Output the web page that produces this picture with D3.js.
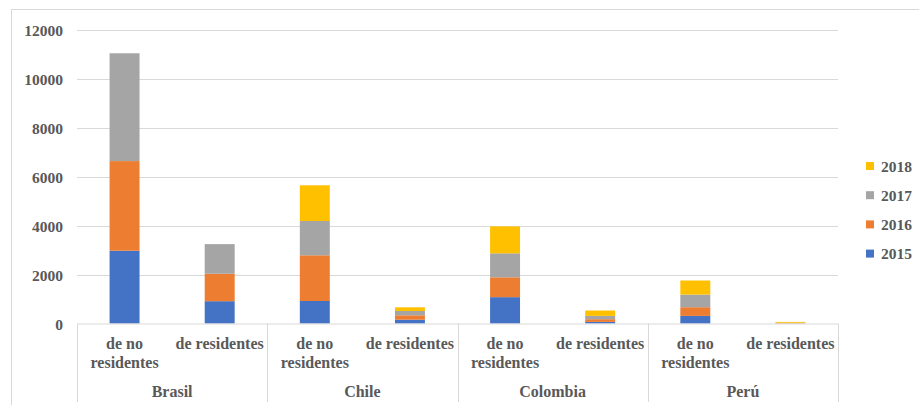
<!DOCTYPE html>
<html>
<head>
<meta charset="utf-8">
<script src="https://cdn.jsdelivr.net/npm/d3@7"></script>
<style>
  html, body { margin: 0; padding: 0; background: #ffffff; }
  svg { display: block; }
</style>
</head>
<body>
<svg id="chart" width="919" height="405"></svg>
<script>
// Countries and the two kinds of applicants within each
const countries = ["Brasil", "Chile", "Colombia", "Perú"];
const kinds = ["de no residentes", "de residentes"];
const years = ["2015", "2016", "2017", "2018"];
const yearColors = ["#4472c4", "#ed7d31", "#a5a5a5", "#ffc000"];

// Values per year, in order: Brasil(no res, res), Chile(no res, res), Colombia(no res, res), Perú(no res, res)
const v2015 = [2970, 910, 918, 155, 1075, 65, 310, 5];
const v2016 = [3660, 1120, 1866, 180, 810, 110, 355, 15];
const v2017 = [4400, 1210, 1400, 175, 980, 135, 515, 10];
const v2018 = [0, 0, 1457, 150, 1100, 220, 575, 35];

const yTicks = [0, 2000, 4000, 6000, 8000, 10000, 12000];

const FONT = "'Liberation Serif', 'Times New Roman', Tinos, serif";
const TEXT_FILL = "#595959";

const svg = d3.select("#chart");
const W = 919, H = 405;

// outer frame
svg.append("rect")
  .attr("x", 11.5).attr("y", 9.5)
  .attr("width", W + 10).attr("height", H + 10)
  .attr("fill", "none").attr("stroke", "#d9d9d9").attr("stroke-width", 1);

const plot = { left: 77, right: 838, top: 29.5, bottom: 323.5 };

// one slot per (country, kind)
const slots = [];
countries.forEach(c => kinds.forEach(k => slots.push(c + "|" + k)));

const rows = slots.map((s, i) => ({
  slot: s,
  "2015": v2015[i], "2016": v2016[i], "2017": v2017[i], "2018": v2018[i]
}));

const x = d3.scaleBand().domain(slots).range([plot.left, plot.right]).paddingInner(0.685).paddingOuter(0.3425);
const y = d3.scaleLinear().domain([0, 12000]).range([plot.bottom, plot.top]);

function styleText(sel, size) {
  return sel.style("font-family", FONT).style("font-weight", "bold")
    .style("font-size", size || "16px").style("fill", TEXT_FILL);
}

// gridlines
svg.append("g")
  .selectAll("line").data(yTicks.filter(t => t > 0)).join("line")
  .attr("x1", plot.left).attr("x2", plot.right)
  .attr("y1", d => Math.round(y(d)) + 0.5).attr("y2", d => Math.round(y(d)) + 0.5)
  .attr("stroke", "#d9d9d9").attr("stroke-width", 1);

// y axis labels
const yAxis = d3.axisLeft(y).tickValues(yTicks).tickSize(0).tickPadding(14).tickFormat(d3.format("d"));
const yg = svg.append("g").attr("transform", `translate(${plot.left},0)`).call(yAxis);
yg.select(".domain").remove();
yg.attr("font-family", null).attr("font-size", null);
styleText(yg.selectAll("text"), "15.5px").attr("fill", null).attr("dy", "0.36em");

// stacked bars
const stack = d3.stack().keys(years)(rows);
const color = d3.scaleOrdinal().domain(years).range(yearColors);

svg.append("g").selectAll("g").data(stack).join("g")
  .attr("fill", d => color(d.key))
  .selectAll("rect").data(d => d).join("rect")
  .attr("x", d => x(d.data.slot))
  .attr("width", x.bandwidth())
  .attr("y", d => y(d[1]))
  .attr("height", d => Math.max(0, y(d[0]) - y(d[1])));

// category axis line
svg.append("line")
  .attr("x1", plot.left).attr("x2", plot.right)
  .attr("y1", plot.bottom + 0.5).attr("y2", plot.bottom + 0.5)
  .attr("stroke", "#d9d9d9").attr("stroke-width", 1);

// group separators
const groupW = (plot.right - plot.left) / countries.length;
const seps = d3.range(countries.length + 1).map(i => plot.left + i * groupW);
svg.append("g").selectAll("line").data(seps).join("line")
  .attr("x1", d => Math.round(d) + 0.5).attr("x2", d => Math.round(d) + 0.5)
  .attr("y1", plot.bottom).attr("y2", 402)
  .attr("stroke", "#d9d9d9").attr("stroke-width", 1);

// kind labels
const slotW = groupW / kinds.length;
const labels = svg.append("g").attr("text-anchor", "middle");
slots.forEach((s, i) => {
  const cx = plot.left + slotW * (i + 0.5);
  const kind = s.split("|")[1];
  const t = styleText(labels.append("text")).attr("x", cx).attr("y", 349);
  if (kind === "de no residentes") {
    t.append("tspan").attr("x", cx).text("de no");
    t.append("tspan").attr("x", cx).attr("dy", 19).text("residentes");
  } else {
    t.text(kind);
  }
});

// country labels
styleText(svg.append("g").attr("text-anchor", "middle")
  .selectAll("text").data(countries).join("text"))
  .attr("x", (d, i) => plot.left + groupW * (i + 0.5))
  .attr("y", 397)
  .text(d => d);

// legend, newest year on top
const legend = svg.append("g");
const legYears = years.slice().reverse();
legYears.forEach((yr, i) => {
  const cy = 166 + i * 29.2;
  legend.append("rect").attr("x", 866).attr("y", cy - 4).attr("width", 8).attr("height", 8).attr("fill", color(yr));
  styleText(legend.append("text"), "15.5px").attr("x", 881).attr("y", cy).attr("dy", "0.36em").text(yr);
});
</script>
</body>
</html>
